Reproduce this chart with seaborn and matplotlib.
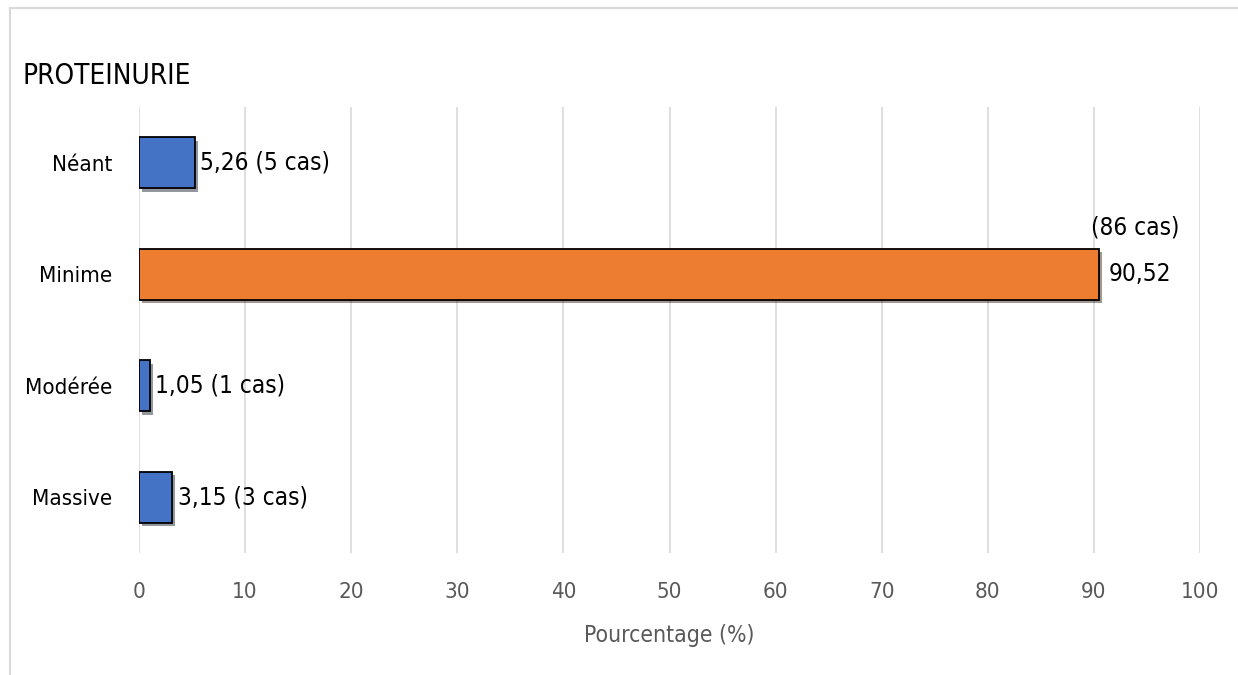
import matplotlib
matplotlib.use("Agg")
import matplotlib.pyplot as plt
import matplotlib.patheffects as pe
from matplotlib.lines import Line2D
import seaborn as sns
import pandas as pd

categories = ["Néant", "Minime", "Modérée", "Massive"]
percentages = [5.26, 90.52, 1.05, 3.15]
cases = [5, 86, 1, 3]
bar_colors = ["#4472C4", "#ED7D31", "#4472C4", "#4472C4"]
x_ticks = [0, 10, 20, 30, 40, 50, 60, 70, 80, 90, 100]

sns.set_theme(style="white")
plt.rcParams["font.family"] = ["DejaVu Sans"]
plt.rcParams["font.stretch"] = "condensed"

df = pd.DataFrame({"cat": categories, "pct": percentages})

fig = plt.figure(figsize=(12.38, 6.75), dpi=100)
ax = fig.add_axes([139 / 1238, 1 - 553 / 675, (1200 - 139) / 1238, (553 - 107) / 675])

sns.barplot(data=df, y="cat", x="pct", hue="cat", palette=bar_colors,
            order=categories, hue_order=categories, legend=False, saturation=1,
            width=0.46, edgecolor="black", linewidth=1.3, ax=ax, orient="h")

for p in ax.patches:
    p.set_path_effects([pe.SimplePatchShadow(offset=(2, -2.5), alpha=0.45, rho=0.2),
                        pe.Normal()])
    p.set_zorder(3)

ax.set_xlim(0, 100)
ax.set_ylim(3.5, -0.5)
ax.set_xticks(x_ticks)
ax.set_xticklabels([str(t) for t in x_ticks])
ax.grid(axis="x", color="#D9D9D9", linewidth=1.2, zorder=0)
ax.set_axisbelow(True)
for s in ax.spines.values():
    s.set_visible(False)

ax.tick_params(axis="x", colors="#595959", labelsize=16, pad=21, length=0)
ax.tick_params(axis="y", colors="black", labelsize=16, pad=19, length=0)
ax.set_ylabel("")
ax.set_xlabel("Pourcentage (%)", fontsize=16.5, color="#595959", labelpad=16)

def fmt(v):
    return f"{v:.2f}".replace(".", ",")

for i, (v, c) in enumerate(zip(percentages, cases)):
    if v > 50:
        ax.text(v + 0.9, i, fmt(v), va="center", ha="left", fontsize=17.5, color="black")
        ax.text(v + 3.4, i - 0.42, f"({c} cas)", va="center", ha="center",
                fontsize=17.5, color="black")
    else:
        ax.text(v + 0.5, i, f"{fmt(v)} ({c} cas)", va="center", ha="left",
                fontsize=17.5, color="black")

fig.text(22 / 1238, 1 - 76 / 675, "PROTEINURIE", fontsize=20, fontweight="medium",
         color="black", va="center", ha="left")

# chart frame
fig.add_artist(Line2D([10 / 1238, 1], [1 - 8 / 675] * 2, color="#D9D9D9", linewidth=1.5))
fig.add_artist(Line2D([10 / 1238] * 2, [0, 1 - 8 / 675], color="#D9D9D9", linewidth=1.5))

fig.savefig("out.png", dpi=100)
